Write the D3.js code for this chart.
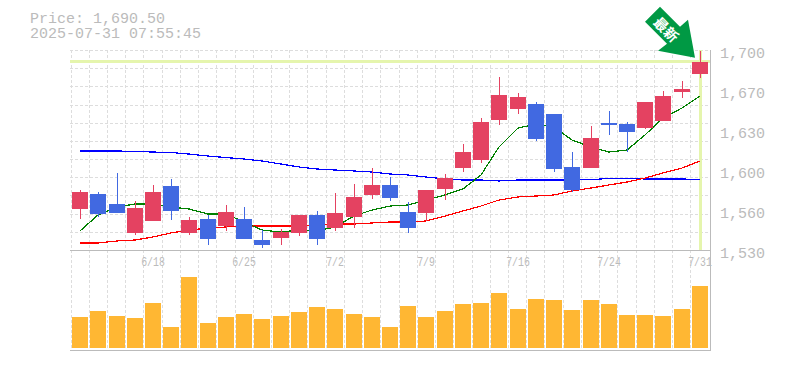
<!DOCTYPE html>
<html>
<head>
<meta charset="utf-8">
<script src="https://cdn.jsdelivr.net/npm/d3@7"></script>
<style>
html,body{margin:0;padding:0;background:#fff;}
svg{display:block;}
text{font-family:"Liberation Mono",monospace;fill:#bbb;}
</style>
</head>
<body>
<div id="chart"></div>
<script>
const dates = ["6/12","6/13","6/16","6/17","6/18","6/19","6/20","6/23","6/24","6/25","6/26","6/27","6/30","7/1","7/2","7/3","7/4","7/7","7/8","7/9","7/10","7/11","7/14","7/15","7/16","7/17","7/18","7/22","7/23","7/24","7/25","7/28","7/29","7/30","7/31"];
const opens = [1565.3,1578,1569.5,1544.9,1555.1,1584.8,1544.9,1556.8,1550.8,1556.8,1538.9,1540.6,1544.9,1560.2,1549.1,1558.5,1577.2,1585.7,1562.7,1561.9,1582.3,1600.1,1606.9,1640.9,1650.3,1654.5,1646,1601,1600.1,1638.4,1637.5,1634.1,1640.1,1664.7,1680];
const closes = [1579.7,1561,1561.9,1566.1,1579.7,1563.6,1555.9,1539.8,1562.7,1539.8,1534.7,1545.7,1560.2,1539.8,1561.9,1575.5,1585.7,1574.6,1549.1,1581.4,1591.6,1613.7,1639.2,1662.2,1660.5,1624.8,1599.3,1581.4,1625.6,1636.7,1630.7,1656.2,1661.3,1667.3,1690.5];
const highs = [1581.4,1579.7,1595.9,1572,1585.7,1590.8,1558.5,1560.2,1568.7,1567,1547.4,1548.3,1560.2,1563.6,1578.9,1586.5,1600.1,1592.5,1571.2,1581.4,1595,1620.5,1642.6,1677.5,1663.9,1656.2,1646,1613.7,1635.8,1648.6,1639.2,1656.2,1665.6,1674.1,1699.6];
const lows = [1556.8,1558.7,1561.9,1543.2,1555.1,1555.9,1543.2,1534.7,1546.6,1539.8,1532.1,1534.7,1542.3,1534.7,1546.6,1549.1,1573.8,1572,1544.9,1555.1,1572.9,1596.7,1604.4,1636.7,1646,1623.1,1596.7,1579.7,1600.1,1628.2,1613.7,1633.2,1640.1,1659.6,1676.6];
const volume = [31,37,32,30,45,21,71,25,31,34,29,32,36,41,39,34,31,21,42,31,37,44,45,55,39,49,48,38,48,44,33,33,32,39,62];
const maShort = [1546.6,1560.2,1567,1569.5,1569.5,1567,1565.3,1561,1561,1554.2,1547.4,1545.7,1547.4,1546.6,1550,1559.3,1564.4,1567.8,1568.7,1572.9,1577.2,1582.3,1594.2,1618,1634.1,1637.5,1635,1623.9,1618,1613.7,1615.4,1628.2,1642.6,1651.1,1661.3];
const maMid = [1536.4,1536.4,1538.1,1538.9,1541.5,1544.9,1547.4,1549.1,1550,1550.8,1550.8,1550.8,1550.8,1551.7,1552.5,1552.5,1553.4,1554.2,1554.2,1555.1,1559.3,1563.6,1567.8,1572.9,1575.5,1576.3,1577.2,1580.6,1583.1,1585.7,1588.2,1591.6,1595.9,1600.1,1606.1];
const maLong = [1614.6,1614.6,1614.6,1614.2,1613.7,1613.3,1612,1610.3,1609,1607.8,1606.1,1603.5,1601,1599.3,1598.4,1597.6,1596.7,1595,1594.2,1592.5,1590.8,1589.9,1589.9,1589.1,1589.9,1589.9,1589.9,1589.9,1590.3,1591.2,1591.2,1590.8,1590.8,1590.8,1590.3];
const priceTickLabels = ["1,700","1,670","1,630","1,600","1,560","1,530"];
const dateTickEvery = 5;
const lastPrice = "Price: 1,690.50";
const stamp = "2025-07-31 07:55:45";
const arrowLabel = "最新";

const width = 785, height = 370;
const plotLeft = 70, plotRight = 710, plotTop = 50, plotMid = 250, plotBottom = 350;
const upColor = "#e44261", downColor = "#4169e1";

const x = d3.scaleBand().domain(d3.range(dates.length)).range([71, 709]);
const y = d3.scaleLinear().domain([1530, 1700]).range([plotMid + .5, plotTop + .5]);
const v = d3.scaleLinear().domain([0, d3.max(volume)]).range([348, 277]);
const cx = i => Math.round(x(i) + x.bandwidth() / 2);

const svg = d3.select("#chart").append("svg").attr("width", width).attr("height", height);

// grid
const grid = svg.append("g").attr("stroke", "#ddd").attr("stroke-dasharray", "3,2").attr("shape-rendering", "crispEdges");
grid.selectAll("line.v").data(d3.range(dates.length)).join("line").attr("class", "v")
    .attr("x1", i => Math.floor(x(i))).attr("x2", i => Math.floor(x(i)))
    .attr("y1", plotTop).attr("y2", plotBottom);
grid.selectAll("line.h").data(d3.range(0, 11)).join("line").attr("class", "h")
    .attr("x1", plotLeft).attr("x2", plotRight)
    .attr("y1", i => Math.round(plotTop + i * (plotMid - plotTop) / 11)).attr("y2", i => Math.round(plotTop + i * (plotMid - plotTop) / 11));

// current price guides
const guide = svg.append("g").attr("stroke", "#e5f5ad").attr("stroke-width", 3).attr("shape-rendering", "crispEdges");
guide.append("line").attr("x1", plotLeft).attr("x2", plotRight).attr("y1", y(closes[34])).attr("y2", y(closes[34]));
guide.append("line").attr("x1", cx(34)).attr("x2", cx(34)).attr("y1", plotTop).attr("y2", plotMid);

// frame
const frame = svg.append("g").attr("stroke", "#bbb").attr("shape-rendering", "crispEdges");
frame.append("line").attr("x1", plotLeft).attr("x2", plotRight + 1).attr("y1", plotMid).attr("y2", plotMid);
frame.append("line").attr("x1", plotLeft).attr("x2", plotRight + 1).attr("y1", plotBottom).attr("y2", plotBottom);
frame.append("line").attr("x1", plotRight).attr("x2", plotRight).attr("y1", plotTop).attr("y2", plotBottom);

// moving averages
const line = d3.line().x((d, i) => cx(i)).y(d => y(d));
[[maLong, "#0000ff"], [maMid, "#ff0000"], [maShort, "#008000"]].forEach(([s, c]) => {
    svg.append("path").attr("d", line(s)).attr("fill", "none").attr("stroke", c)
        .attr("stroke-width", 1.2).attr("shape-rendering", "crispEdges");
});

// candles
const idx = d3.range(dates.length);
const candle = svg.append("g").attr("shape-rendering", "crispEdges");
candle.selectAll("line").data(idx).join("line")
    .attr("x1", cx).attr("x2", cx)
    .attr("y1", i => y(highs[i])).attr("y2", i => y(lows[i]))
    .attr("stroke", i => closes[i] >= opens[i] ? upColor : downColor);
candle.selectAll("rect").data(idx).join("rect")
    .attr("x", i => cx(i) - 8).attr("width", 16)
    .attr("y", i => y(Math.max(opens[i], closes[i])))
    .attr("height", i => Math.max(1, Math.abs(y(opens[i]) - y(closes[i]))))
    .attr("fill", i => closes[i] >= opens[i] ? upColor : downColor);

// volume
svg.append("g").attr("fill", "#ffb733").attr("shape-rendering", "crispEdges")
  .selectAll("rect").data(idx).join("rect")
    .attr("x", i => cx(i) - 8).attr("width", 16)
    .attr("y", i => v(volume[i])).attr("height", i => v(0) - v(volume[i]));

// axes
svg.append("g").selectAll("text").data(priceTickLabels).join("text")
    .attr("x", 720).attr("y", (d, i) => plotTop + i * 40 + 8)
    .attr("font-size", 15).text(d => d);
svg.append("g").selectAll("text").data(idx.filter(i => i % dateTickEvery == 4)).join("text")
    .attr("x", cx).attr("y", 266).attr("text-anchor", "middle")
    .attr("font-size", 13).attr("textLength", i => dates[i].length * 5.9).attr("lengthAdjust", "spacingAndGlyphs")
    .text(i => dates[i]);

// header
svg.append("text").attr("x", 30).attr("y", 23).attr("font-size", 15).text(lastPrice);
svg.append("text").attr("x", 30).attr("y", 38).attr("font-size", 15).text(stamp);

// arrow
const arrowShape = [[-35,-51],[-50,-36],[-28,-14],[-37,-7],[0,0],[-7,-38],[-15,-31]];
const arrow = svg.append("g").attr("transform", `translate(${cx(34) - 5},${y(closes[34]) - 4})`);
arrow.append("polygon").attr("points", arrowShape.join(" ")).attr("fill", "#009944");
arrow.append("text").attr("transform", "translate(-29,-28) rotate(45)")
    .attr("text-anchor", "middle").attr("dy", 5).attr("font-size", 14).attr("font-weight", "bold")
    .style("font-family", "'Noto Sans CJK JP'").style("fill", "#fff").text(arrowLabel);
</script>
</body>
</html>
